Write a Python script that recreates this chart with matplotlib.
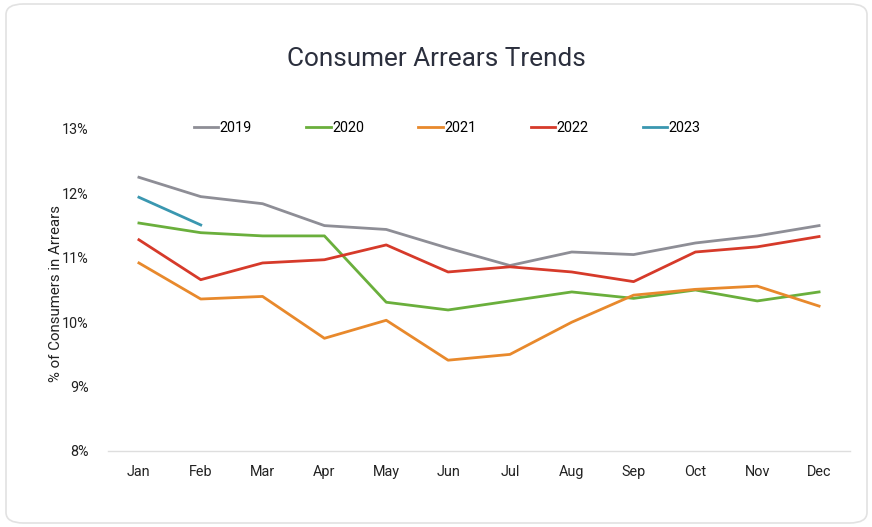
import matplotlib.pyplot as plt
from matplotlib.patches import FancyBboxPatch
from matplotlib.ticker import FuncFormatter

plt.rcParams['font.family'] = ['Roboto', 'DejaVu Sans']

months = ['Jan', 'Feb', 'Mar', 'Apr', 'May', 'Jun', 'Jul', 'Aug', 'Sep', 'Oct', 'Nov', 'Dec']
y2019 = [12.25, 11.95, 11.84, 11.50, 11.44, 11.15, 10.88, 11.09, 11.05, 11.23, 11.34, 11.50]
y2020 = [11.54, 11.39, 11.34, 11.34, 10.31, 10.19, 10.33, 10.47, 10.37, 10.50, 10.33, 10.47]
y2021 = [10.92, 10.36, 10.40, 9.75, 10.03, 9.41, 9.50, 10.00, 10.42, 10.51, 10.56, 10.25]
y2022 = [11.28, 10.66, 10.92, 10.97, 11.20, 10.78, 10.86, 10.78, 10.63, 11.09, 11.17, 11.33]
y2023 = [11.94, 11.51]

series = [('2019', y2019, '#8e8e96'), ('2020', y2020, '#6aaf3c'), ('2021', y2021, '#e8892c'),
          ('2022', y2022, '#d63a2a'), ('2023', y2023, '#3a97b0')]

fig = plt.figure(figsize=(8.72, 5.27), dpi=100)
# card background, kept behind the axes
card = FancyBboxPatch((6 / 872, 4 / 527), 861 / 872, 519 / 527,
                      boxstyle='round,pad=0,rounding_size=0.02',
                      transform=fig.transFigure, facecolor='white',
                      edgecolor='#e2e2e2', linewidth=1.2, zorder=-5)
fig.patches.append(card)

ax = fig.add_axes([108 / 872, 76 / 527, 742 / 872, 322 / 527])
ax.set_facecolor('none')

for name, vals, col in series:
    ax.plot(months[:len(vals)], vals, color=col, linewidth=2, label=name)

ax.set_xlim(-0.5, 11.5)
ax.set_ylim(8, 13)
ax.set_yticks([8, 9, 10, 11, 12, 13])
ax.yaxis.set_major_formatter(FuncFormatter(lambda v, p: f'{v:.0f}%'))
for s in ['top', 'right', 'left']:
    ax.spines[s].set_visible(False)
ax.spines['bottom'].set_color('#dedede')
ax.spines['bottom'].set_linewidth(1)
ax.tick_params(axis='both', length=0, labelsize=10.4, colors='#222222')
ax.tick_params(axis='y', pad=14)
ax.tick_params(axis='x', pad=10)
ax.set_ylabel('% of Consumers in Arrears', fontsize=10.8, color='#222222')
ax.yaxis.set_label_coords(-0.061, 0.49)

fig.text(0.5, 0.888, 'Consumer Arrears Trends', ha='center', va='center',
         fontsize=18.8, color='#2b2f3d')

fig.legend(loc='center', bbox_to_anchor=(0.513, 1 - 128 / 527), ncol=5, frameon=False,
           fontsize=10.4, handlelength=1.7, handletextpad=0.1, columnspacing=3.75)

fig.savefig('out.png', dpi=100)
